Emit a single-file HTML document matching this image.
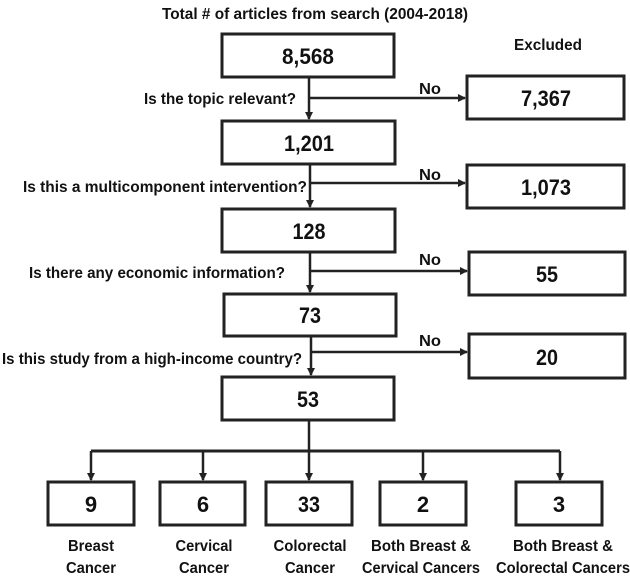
<!DOCTYPE html>
<html><head><meta charset="utf-8"><style>
html,body{margin:0;padding:0;background:#fff;}
svg{display:block;font-family:"Liberation Sans",sans-serif;font-weight:bold;}
</style></head><body>
<svg width="630" height="576" viewBox="0 0 630 576">
<defs><marker id="a" markerWidth="8" markerHeight="8" refX="7" refY="4" orient="auto" markerUnits="userSpaceOnUse"><path d="M0,0 L8,4 L0,8 z" fill="#222"/></marker></defs>
<g fill="#111" font-size="16">
<text x="162" y="19" textLength="306" lengthAdjust="spacingAndGlyphs">Total # of articles from search (2004-2018)</text>
<text x="514" y="50" textLength="68" lengthAdjust="spacingAndGlyphs">Excluded</text>
<text x="144" y="104" textLength="152" lengthAdjust="spacingAndGlyphs">Is the topic relevant?</text>
<text x="23" y="192" textLength="284" lengthAdjust="spacingAndGlyphs">Is this a multicomponent intervention?</text>
<text x="29" y="278" textLength="256" lengthAdjust="spacingAndGlyphs">Is there any economic information?</text>
<text x="2" y="364" textLength="300" lengthAdjust="spacingAndGlyphs">Is this study from a high-income country?</text>
<text x="419" y="94" textLength="22" lengthAdjust="spacingAndGlyphs">No</text><text x="419" y="180" textLength="22" lengthAdjust="spacingAndGlyphs">No</text><text x="419" y="265" textLength="22" lengthAdjust="spacingAndGlyphs">No</text><text x="419" y="346" textLength="22" lengthAdjust="spacingAndGlyphs">No</text>
</g>
<g fill="none" stroke="#222" stroke-width="3">
<rect x="222" y="34" width="172" height="43"/>
<rect x="467" y="76" width="157" height="43"/>
<rect x="222" y="121" width="173" height="43"/>
<rect x="467" y="165" width="157" height="43"/>
<rect x="222" y="209" width="173" height="43"/>
<rect x="469" y="252" width="156" height="43"/>
<rect x="224" y="294" width="172" height="42"/>
<rect x="469" y="334" width="156" height="44"/>
<rect x="222" y="377" width="172" height="43"/>
<rect x="48" y="482" width="86" height="43"/>
<rect x="160" y="482" width="85" height="43"/>
<rect x="266" y="482" width="86" height="43"/>
<rect x="380" y="482" width="86" height="43"/>
<rect x="516" y="482" width="86" height="43"/>
</g>
<g stroke="#222" stroke-width="2.5" fill="none" marker-end="url(#a)">
<path d="M309,78 V119"/><path d="M309,98 H465"/>
<path d="M310,165 V207"/><path d="M310,183 H465"/>
<path d="M310,253 V292"/><path d="M310,271 H467"/>
<path d="M311,337 V375"/><path d="M311,352 H467"/>
<path d="M309,421 V480"/>
<path d="M91,451 V480"/><path d="M203,451 V480"/><path d="M423,451 V480"/><path d="M560,451 V480"/>
</g>
<path d="M91,451 H560" stroke="#222" stroke-width="3"/>
<g fill="#111" font-size="22" text-anchor="middle">
<text x="308" y="64" textLength="52" lengthAdjust="spacingAndGlyphs">8,568</text>
<text x="546" y="106" textLength="50" lengthAdjust="spacingAndGlyphs">7,367</text>
<text x="309" y="151" textLength="50" lengthAdjust="spacingAndGlyphs">1,201</text>
<text x="546" y="195" textLength="50" lengthAdjust="spacingAndGlyphs">1,073</text>
<text x="309" y="239" textLength="33" lengthAdjust="spacingAndGlyphs">128</text>
<text x="547" y="282" textLength="22" lengthAdjust="spacingAndGlyphs">55</text>
<text x="310" y="323" textLength="22" lengthAdjust="spacingAndGlyphs">73</text>
<text x="547" y="365" textLength="22" lengthAdjust="spacingAndGlyphs">20</text>
<text x="308" y="407" textLength="22" lengthAdjust="spacingAndGlyphs">53</text>
<text x="91" y="512">9</text>
<text x="203" y="512">6</text>
<text x="309" y="512" textLength="22" lengthAdjust="spacingAndGlyphs">33</text>
<text x="423" y="512">2</text>
<text x="559" y="512">3</text>
</g>
<g fill="#111" font-size="16" text-anchor="middle">
<text x="91" y="551" textLength="46" lengthAdjust="spacingAndGlyphs">Breast</text><text x="91" y="573" textLength="50" lengthAdjust="spacingAndGlyphs">Cancer</text>
<text x="204" y="551" textLength="57" lengthAdjust="spacingAndGlyphs">Cervical</text><text x="204" y="573" textLength="50" lengthAdjust="spacingAndGlyphs">Cancer</text>
<text x="310" y="551" textLength="73" lengthAdjust="spacingAndGlyphs">Colorectal</text><text x="310" y="573" textLength="50" lengthAdjust="spacingAndGlyphs">Cancer</text>
<text x="421" y="551" textLength="100" lengthAdjust="spacingAndGlyphs">Both Breast &amp;</text><text x="421" y="573" textLength="118" lengthAdjust="spacingAndGlyphs">Cervical Cancers</text>
<text x="563" y="551" textLength="100" lengthAdjust="spacingAndGlyphs">Both Breast &amp;</text><text x="563" y="573" textLength="134" lengthAdjust="spacingAndGlyphs">Colorectal Cancers</text>
</g>
</svg>
</body></html>
